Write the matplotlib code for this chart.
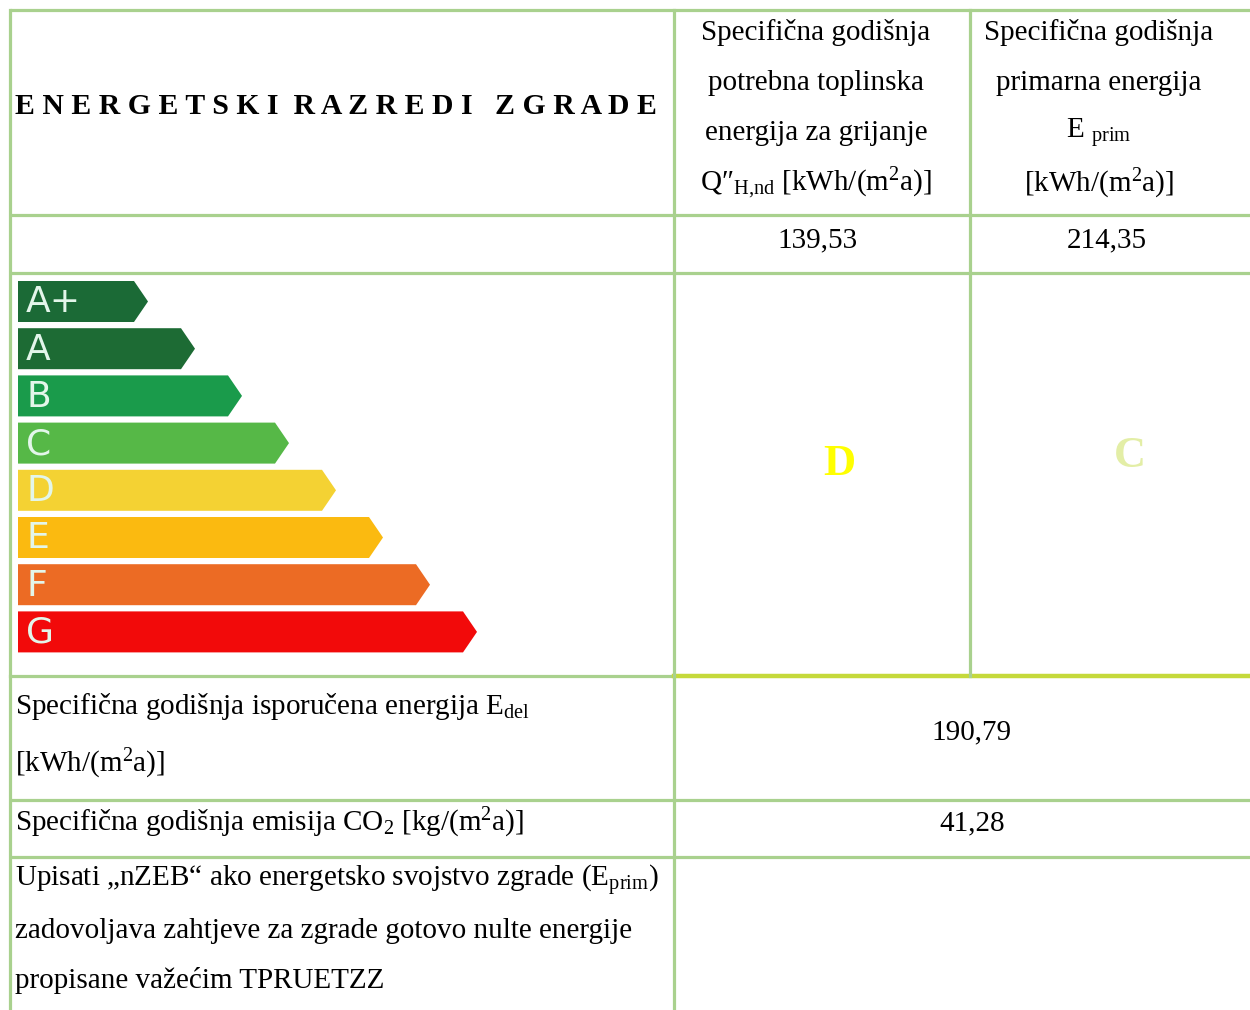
import matplotlib
matplotlib.use("Agg")
import matplotlib.pyplot as plt
from matplotlib.patches import Polygon

plt.rcParams['font.family'] = ['Liberation Serif', 'DejaVu Serif']
plt.rcParams['mathtext.fontset'] = 'custom'
plt.rcParams['mathtext.rm'] = 'Liberation Serif'
plt.rcParams['mathtext.it'] = 'Liberation Serif:italic'
plt.rcParams['mathtext.bf'] = 'Liberation Serif:bold'

# energy classes of the scale
classes = ['A+', 'A', 'B', 'C', 'D', 'E', 'F', 'G']
class_colors = ['#1b6a36', '#1d6b34', '#1a9b4b', '#56b847', '#f4d233', '#fbba10', '#ec6b24', '#f20a0a']

# results of the building
q_hnd = '139,53'
e_prim = '214,35'
e_del = '190,79'
co2 = '41,28'
class_q = 'D'
class_prim = 'C'

head_q = ['Specifična godišnja', 'potrebna toplinska', 'energija za grijanje',
          'Q″$_{\\mathrm{H{,}nd}}$ [kWh/(m$^{\\mathrm{2}}$a)]']
head_prim = ['Specifična godišnja', 'primarna energija', 'E $_{\\mathrm{prim}}$',
             '[kWh/(m$^{\\mathrm{2}}$a)]']
nzeb_lines = ['Upisati „nZEB“ ako energetsko svojstvo zgrade (E$_{\\mathrm{prim}}$)',
              'zadovoljava zahtjeve za zgrade gotovo nulte energije',
              'propisane važećim TPRUETZZ']

fs = 21

fig = plt.figure(figsize=(12.5, 10.1), dpi=100)
ax = fig.add_axes([0, 0, 1, 1])
ax.set_xlim(0, 1250)
ax.set_ylim(1010, 0)
ax.axis('off')

grid = '#a9d18e'
lw = 2.3

# table lines
for y in [10, 215, 273, 800, 857]:
    ax.plot([10, 1250], [y, y], color=grid, lw=lw, solid_capstyle='butt')
ax.plot([10, 674], [676, 676], color=grid, lw=lw)
ax.plot([674, 1250], [676, 676], color='#c5d93b', lw=3.2)
ax.plot([10, 10], [10, 1010], color=grid, lw=lw)
ax.plot([674, 674], [10, 1010], color=grid, lw=lw)
ax.plot([970, 970], [10, 676], color=grid, lw=lw)

# header
ax.text(336, 106, 'E N E R G E T S K I  R A Z R E D I   Z G R A D E', ha='center', va='center',
        fontsize=21.4, fontweight='bold')
for i, s in enumerate(head_q):
    ax.text(816, 32 + 50.5 * i, s, ha='center', va='center', fontsize=fs)
for i, s in enumerate(head_prim):
    ax.text(1099, 32 + 50.5 * i, s, ha='center', va='center', fontsize=fs)

ax.text(818, 240, q_hnd, ha='center', va='center', fontsize=fs)
ax.text(1107, 240, e_prim, ha='center', va='center', fontsize=fs)

# class arrows
for i, (c, col) in enumerate(zip(classes, class_colors)):
    top = 281 + 47.2 * i
    bot = top + 41
    tip = 148 + 47 * i
    pts = [(18, top), (tip - 14, top), (tip, (top + bot) / 2), (tip - 14, bot), (18, bot)]
    ax.add_patch(Polygon(pts, closed=True, facecolor=col, edgecolor='none'))
    ax.text(26, (top + bot) / 2 + 1, c, ha='left', va='center', fontsize=26,
            color='#e3f6ea', family='DejaVu Sans')

ax.text(839, 464, class_q, ha='center', va='center', fontsize=32, fontweight='bold', color='#ffff00')
ax.text(1130, 456, class_prim, ha='center', va='center', fontsize=32, fontweight='bold', color='#e3eea6')

# lower rows
ax.text(15, 706, 'Specifična godišnja isporučena energija E$_{\\mathrm{del}}$', ha='left', va='center', fontsize=fs)
ax.text(15, 764, '[kWh/(m$^{\\mathrm{2}}$a)]', ha='left', va='center', fontsize=fs)
ax.text(972, 732, e_del, ha='center', va='center', fontsize=fs)

ax.text(15, 823, 'Specifična godišnja emisija CO$_{\\mathrm{2}}$ [kg/(m$^{\\mathrm{2}}$a)]', ha='left', va='center', fontsize=fs)
ax.text(972, 823, co2, ha='center', va='center', fontsize=fs)

for i, s in enumerate(nzeb_lines):
    ax.text(15, 880 + 50.5 * i, s, ha='left', va='center', fontsize=fs)

fig.savefig('out.png', dpi=100)
